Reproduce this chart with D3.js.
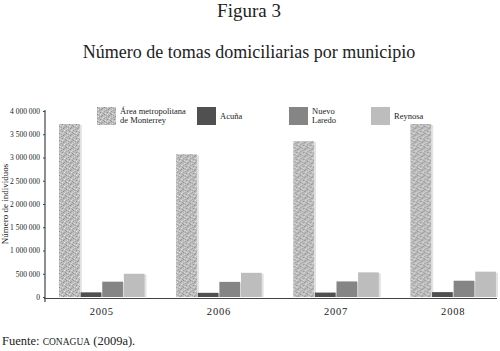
<!DOCTYPE html>
<html>
<head>
<meta charset="utf-8">
<script src="https://cdn.jsdelivr.net/npm/d3@7"></script>
<style>
  body { margin: 0; background: #fff; }
  text { font-family: "Liberation Serif", serif; fill: #222; }
</style>
</head>
<body>
<div id="chart"></div>
<script>
const years = ["2005", "2006", "2007", "2008"];
const series = ["Área metropolitana de Monterrey", "Acuña", "Nuevo Laredo", "Reynosa"];
const monterrey = [3720000, 3070000, 3350000, 3720000];
const acuna = [100000, 90000, 95000, 105000];
const nuevoLaredo = [330000, 325000, 335000, 350000];
const reynosa = [500000, 520000, 530000, 545000];
const yTicks = [0, 500000, 1000000, 1500000, 2000000, 2500000, 3000000, 3500000, 4000000];

const width = 500, height = 351;
const colors = ["url(#stipple)", "#505050", "#858585", "#bdbdbd"];
const values = [monterrey, acuna, nuevoLaredo, reynosa];

const svg = d3.select("#chart").append("svg")
  .attr("width", width)
  .attr("height", height);

// stippled texture for Monterrey
const pat = svg.append("defs").append("pattern")
  .attr("id", "stipple")
  .attr("patternUnits", "userSpaceOnUse")
  .attr("width", 7).attr("height", 7);
pat.append("rect").attr("width", 7).attr("height", 7).attr("fill", "#bcbcbc");
[[0, 0, "#8c8c8c"], [3, 0, "#e4e4e4"], [5, 1, "#999"], [1, 2, "#dcdcdc"], [4, 2, "#8a8a8a"],
 [6, 3, "#d6d6d6"], [2, 3, "#9c9c9c"], [0, 4, "#a0a0a0"], [5, 4, "#e8e8e8"], [3, 5, "#8e8e8e"],
 [1, 6, "#dedede"], [6, 6, "#949494"], [2, 1, "#a8a8a8"], [4, 6, "#cfcfcf"]]
  .forEach(([px, py, c]) => pat.append("rect").attr("x", px).attr("y", py).attr("width", 1).attr("height", 1).attr("fill", c));

const x0 = d3.scaleBand().domain(years).range([45, 510]).paddingInner(0.27).paddingOuter(0.12);
const x1 = d3.scaleBand().domain(d3.range(series.length)).range([0, x0.bandwidth()]).paddingInner(0.04);
const y = d3.scaleLinear().domain([0, 4000000]).range([297, 111]);

// titles
svg.append("text").attr("x", 249).attr("y", 17).attr("font-size", 19)
  .attr("text-anchor", "middle").text("Figura 3");
svg.append("text").attr("x", 249).attr("y", 58).attr("font-size", 18)
  .attr("text-anchor", "middle").text("Número de tomas domiciliarias por municipio");

// bars
const groups = svg.selectAll("g.year")
  .data(years)
  .enter().append("g")
  .attr("class", "year")
  .attr("transform", d => `translate(${x0(d)},0)`);

groups.selectAll("rect.shadow")
  .data((d, i) => values.map((v, s) => ({ s, v: v[i] })))
  .enter().append("rect")
  .attr("x", d => x1(d.s) + 2)
  .attr("y", d => y(d.v) + 1)
  .attr("width", x1.bandwidth())
  .attr("height", d => y(0) - y(d.v) - 1)
  .attr("fill", "#e2e2e2");

groups.selectAll("rect.bar")
  .data((d, i) => values.map((v, s) => ({ s, v: v[i] })))
  .enter().append("rect")
  .attr("x", d => x1(d.s))
  .attr("y", d => y(d.v))
  .attr("width", x1.bandwidth())
  .attr("height", d => y(0) - y(d.v))
  .attr("fill", d => colors[d.s]);

// axes
const yAxis = svg.append("g")
  .attr("transform", "translate(45,0)")
  .call(d3.axisLeft(y).tickValues(yTicks).tickSize(2).tickPadding(3)
    .tickFormat(d => d3.format(",")(d).replace(/,/g, " ")));
yAxis.select(".domain").remove();
yAxis.selectAll("line").attr("stroke", "#444");
yAxis.selectAll("text").attr("font-size", 7.5).attr("fill", "#222");
svg.append("line").attr("x1", 45).attr("x2", 45).attr("y1", 110).attr("y2", 302)
  .attr("stroke", "#444").attr("stroke-width", 1.2);

const xAxis = svg.append("g")
  .attr("transform", "translate(0,298.5)")
  .call(d3.axisBottom(x0).tickSize(0).tickPadding(9));
xAxis.select(".domain").remove();
xAxis.selectAll("text").attr("font-size", 10.5).attr("fill", "#222")
  .attr("font-family", "DejaVu Serif, serif").attr("letter-spacing", 0.8);
svg.append("line").attr("x1", 44).attr("x2", 497).attr("y1", 298.5).attr("y2", 298.5)
  .attr("stroke", "#444").attr("stroke-width", 1.2);

svg.append("text")
  .attr("transform", "rotate(-90)")
  .attr("x", -204).attr("y", 8)
  .attr("font-size", 9)
  .attr("text-anchor", "middle")
  .text("Número de individuos");

// legend
const legendX = [97, 197, 289, 371];
const legendLines = [["Área metropolitana", "de Monterrey"], ["Acuña"], ["Nuevo", "Laredo"], ["Reynosa"]];
const legend = svg.selectAll("g.legend")
  .data(series)
  .enter().append("g")
  .attr("class", "legend")
  .attr("transform", (d, i) => `translate(${legendX[i]},107)`);
legend.append("rect")
  .attr("width", 19).attr("height", 18)
  .attr("fill", (d, i) => colors[i]);
legend.each(function (d, i) {
  const t = d3.select(this).append("text")
    .attr("x", 23).attr("font-size", 8.5);
  const lines = legendLines[i];
  lines.forEach((l, k) => {
    t.append("tspan").attr("x", 23)
      .attr("y", lines.length === 1 ? 12 : 7 + k * 8.5)
      .text(l);
  });
});

// source note
const src = svg.append("text").attr("x", 2).attr("y", 345).attr("font-size", 12.5);
src.append("tspan").text("Fuente: ");
src.append("tspan").attr("font-size", 9.5).text("CONAGUA");
src.append("tspan").text(" (2009a).");
</script>
</body>
</html>
